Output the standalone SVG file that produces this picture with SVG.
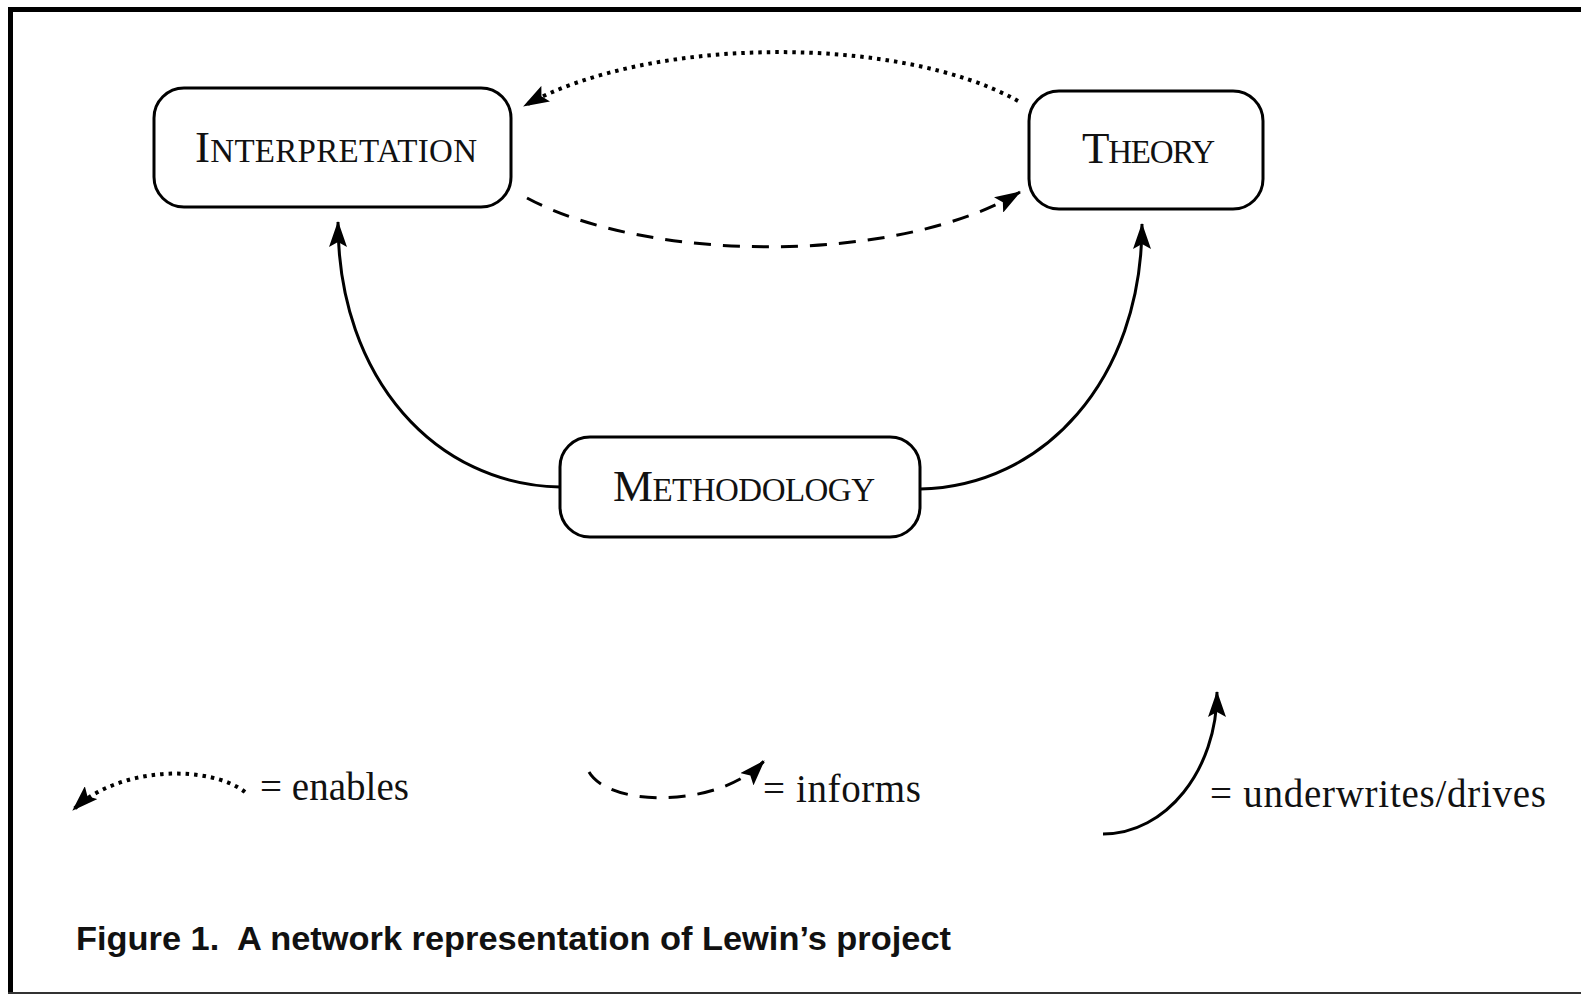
<svg xmlns="http://www.w3.org/2000/svg" width="1581" height="994" viewBox="0 0 1581 994">
  <defs>
    <marker id="arrow" viewBox="0 0 26 18" refX="25" refY="9" markerWidth="26" markerHeight="18" markerUnits="userSpaceOnUse" orient="auto">
      <path d="M0,0 L26,9 L0,18 L5,9 z" fill="#000"/>
    </marker>
    <style>
      .box { fill: #fff; stroke: #000; stroke-width: 3; }
      .lbl { font-family: "Liberation Serif", "Times New Roman", serif; fill: #111; }
      .big { font-size: 45px; }
      .sc { font-size: 33px; }
      .edge { fill: none; stroke: #000; stroke-width: 3; }
      .dotted { stroke-width: 4; stroke-dasharray: 3.5 5; }
      .dashed { stroke-dasharray: 17 12; }
      .legend { font-family: "Liberation Serif", "Times New Roman", serif; font-size: 39px; fill: #111; }
      .caption { font-family: "Liberation Sans", Arial, sans-serif; font-weight: bold; font-size: 33px; fill: #111; white-space: pre; }
    </style>
  </defs>
  <rect width="1581" height="994" fill="#fff"/>
  <path d="M10.5,992 V9.5 H1581" fill="none" stroke="#000" stroke-width="5"/>
  <line x1="8" y1="993" x2="1581" y2="993" stroke="#333" stroke-width="2"/>

  <g id="connectors">
    <path id="enables" class="edge dotted" d="M1018,101 C900,35 650,35 524,106" marker-end="url(#arrow)"/>
    <path id="informs" class="edge dashed" d="M527,198 C650,264 900,264 1020,192" marker-end="url(#arrow)"/>
    <path id="meth-interp" class="edge" d="M560,487 C437,485 338,380 338,222" marker-end="url(#arrow)"/>
    <path id="meth-theory" class="edge" d="M920,489 C1043,487 1142,380 1142,224" marker-end="url(#arrow)"/>
  </g>

  <g id="node-interpretation">
    <rect class="box" x="154" y="88" width="357" height="119" rx="30" ry="30"/>
    <text class="lbl" x="195" y="162" textLength="282" lengthAdjust="spacing"><tspan class="big">I</tspan><tspan class="sc">NTERPRETATION</tspan></text>
  </g>

  <g id="node-theory">
    <rect class="box" x="1029" y="91" width="234" height="118" rx="30" ry="30"/>
    <text class="lbl" x="1082" y="163" textLength="133" lengthAdjust="spacing"><tspan class="big">T</tspan><tspan class="sc">HEORY</tspan></text>
  </g>

  <g id="node-methodology">
    <rect class="box" x="560" y="437" width="360" height="100" rx="30" ry="30"/>
    <text class="lbl" x="613" y="501" textLength="262" lengthAdjust="spacing"><tspan class="big">M</tspan><tspan class="sc">ETHODOLOGY</tspan></text>
  </g>

  <g id="legend">
    <path class="edge dotted" d="M245,792 C210,765 120,765 73,810" marker-end="url(#arrow)"/>
    <text class="legend" x="260" y="800" textLength="149" lengthAdjust="spacing">= enables</text>
    <path class="edge dashed" d="M589,772 C610,808 720,808 764,761" stroke-dasharray="12 10" marker-end="url(#arrow)"/>
    <text class="legend" x="763" y="802" textLength="158" lengthAdjust="spacing">= informs</text>
    <path class="edge" d="M1103,834 C1166,834 1217,770 1217,692" marker-end="url(#arrow)"/>
    <text class="legend" x="1210" y="807" textLength="336" lengthAdjust="spacing">= underwrites/drives</text>
  </g>

  <text class="caption" x="76" y="950" textLength="875" lengthAdjust="spacingAndGlyphs" xml:space="preserve">Figure 1.  A network representation of Lewin’s project</text>
</svg>
